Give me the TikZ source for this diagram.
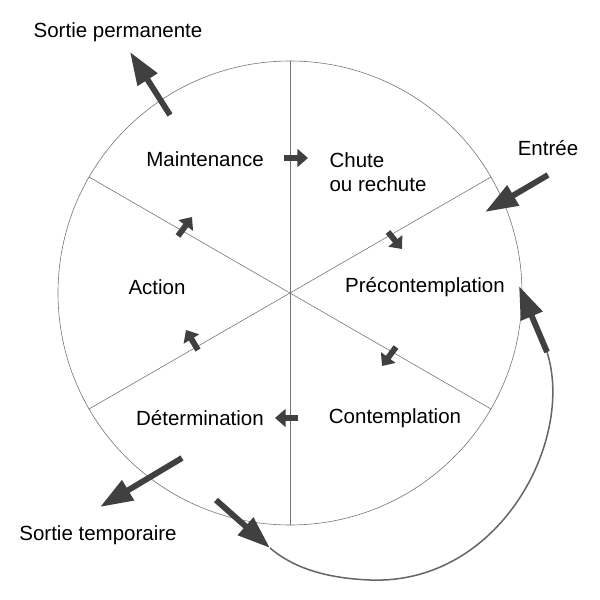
\documentclass[tikz,border=0pt]{standalone}
\usepackage{fontspec}
\setmainfont{Liberation Sans}
\usetikzlibrary{arrows.meta}
\begin{document}
\begin{tikzpicture}[x=0.03cm,y=-0.03cm,
  lbl/.style={font=\fontsize{17.5}{21}\selectfont,align=left},
  big/.style={draw=black!75,line width=5pt,-{Triangle[length=28pt,width=19pt]}},
  small/.style={draw=black!75,line width=5pt,-{Triangle[length=9pt,width=15pt]}},
  thin/.style={draw=black!55,line width=0.5pt}]
\useasboundingbox (0,0) rectangle (600,600);
\coordinate (c) at (290,293);
\draw[thin] (c) circle[radius=232*0.03cm];
\draw[thin] (290,61) -- (290,525);
\draw[thin] (c) -- (491,177);
\draw[thin] (c) -- (89,409);
\draw[thin] (c) -- (89,177);
\draw[thin] (c) -- (491,409);
% return curve
\coordinate (rs) at (547,352);
\coordinate (lt) at (270,548);
\draw[draw=black!60,line width=1.3pt] (rs) .. controls (575,440) and (500,585) .. (370,580) .. controls (320,578) and (290,565) .. (lt);
% labels
\node[lbl] (sp) at (118,32) {Sortie permanente};
\node[lbl] (en) at (548,148) {Entrée};
\node[lbl] (st) at (98,535) {Sortie temporaire};
\node[lbl] (m) at (205,159) {Maintenance};
\node[lbl] (ch) at (378,172) {Chute\\ou rechute};
\node[lbl] (pr) at (425,287) {Précontemplation};
\node[lbl] (co) at (395,418) {Contemplation};
\node[lbl] (de) at (200,418) {Détermination};
\node[lbl] (ac) at (157,287) {Action};
% big arrows
\coordinate (a1s) at (170,115); \coordinate (a1e) at (130,52);
\draw[big] (a1s) -- (a1e);
\coordinate (a2s) at (548,175); \coordinate (a2e) at (485,212);
\draw[big] (a2s) -- (a2e);
\coordinate (a3s) at (182,458); \coordinate (a3e) at (100,507);
\draw[big] (a3s) -- (a3e);
\coordinate (a4s) at (216,500);
\draw[big] (a4s) -- (lt);
\coordinate (a5e) at (519,286);
\draw[big] (rs) -- (a5e);
% small arrows
\draw[small] (284,158) -- (308,158);
\draw[small] (388,232) -- (402,249);
\draw[small] (396,347) -- (382,366);
\draw[small] (298,418) -- (275,418);
\draw[small] (198,350) -- (186,330);
\draw[small] (178,236) -- (192,217);
\end{tikzpicture}
\end{document}
